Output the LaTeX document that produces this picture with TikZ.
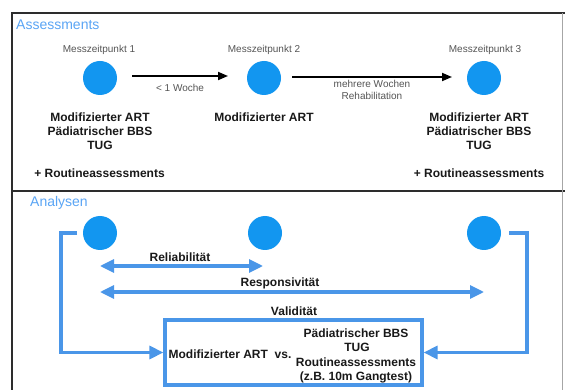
\documentclass[tikz,border=0pt]{standalone}
\usepackage{fontspec}
\setmainfont{Liberation Sans}
\usetikzlibrary{arrows.meta}
\definecolor{dotblue}{RGB}{18,150,240}
\definecolor{lineblue}{RGB}{74,150,232}
\definecolor{titleblue}{RGB}{90,165,245}
\definecolor{frame}{RGB}{45,45,45}
\definecolor{small}{RGB}{85,85,85}
\tikzset{
  dot/.style={circle,fill=dotblue,draw=none,minimum size=34pt,inner sep=0pt},
  bold12/.style={font=\fontsize{12}{13.8}\selectfont\bfseries,align=center,inner sep=0pt,text=black!90},
  small10/.style={font=\fontsize{10}{12.5}\selectfont,align=center,inner sep=0pt,text=small},
  title14/.style={font=\fontsize{14}{16}\selectfont,inner sep=0pt,text=titleblue,anchor=west},
  blackarrow/.style={draw=black,line width=1.8pt,-{Triangle[length=10pt,width=8pt]}},
  bluearrow/.style={draw=lineblue,line width=3.2pt,{Triangle[length=14pt,width=13pt]}-{Triangle[length=14pt,width=13pt]}},
  blueconn/.style={draw=lineblue,line width=3.2pt,-{Triangle[length=14pt,width=13pt]}},
  vbox/.style={draw=lineblue,line width=3.2pt,minimum width=257pt,minimum height=65pt,inner sep=0pt}
}
\begin{document}
\begin{tikzpicture}[x=1pt,y=-1pt]
\useasboundingbox (0,0) rectangle (565,390);
\fill[white] (0,0) rectangle (565,390);
% frame
\draw[frame,line width=1.5pt] (12,390) -- (12,13) -- (565,13);
\draw[frame,line width=1.5pt] (12,191) -- (565,191);
\draw[black!35,line width=1pt] (562,13) -- (562,390);

% ---- Assessments
\node[title14] (tA) at (16,25) {Assessments};
\node[dot] (a1) at (100,78) {};
\node[dot] (a2) at (264,78) {};
\node[dot] (a3) at (484,78) {};
\node[small10] (m1) at (99,50) {Messzeitpunkt 1};
\node[small10] (m2) at (264,50) {Messzeitpunkt 2};
\node[small10] (m3) at (485,50) {Messzeitpunkt 3};
\coordinate (a1r) at (132,76);
\coordinate (a2l) at (228,76);
\coordinate (a2r) at (292,77);
\coordinate (a3l) at (452,77);
\draw[blackarrow] (a1r) -- (a2l);
\draw[blackarrow] (a2r) -- (a3l);
\node[small10] (w1) at (180,88) {< 1 Woche};
\node[small10] (w2) at (372,90) {mehrere Wochen\\Rehabilitation};
\node[bold12] (t1) at (100,131) {Modifizierter ART\\Pädiatrischer BBS\\TUG};
\node[bold12] (t2) at (264,117) {Modifizierter ART};
\node[bold12] (t3) at (479,131) {Modifizierter ART\\Pädiatrischer BBS\\TUG};
\node[bold12] (r1) at (99.5,173) {+ Routineassessments};
\node[bold12] (r3) at (479,173) {+ Routineassessments};

% ---- Analysen
\node[title14] (tB) at (30,203) {Analysen};
\node[dot] (b1) at (100,233) {};
\node[dot] (b2) at (265,233) {};
\node[dot] (b3) at (484,233) {};
\coordinate (relL) at (100,266);
\coordinate (relR) at (263,266);
\coordinate (resL) at (100,292);
\coordinate (resR) at (484,292);
\draw[bluearrow] (relL) -- (relR);
\draw[bluearrow] (resL) -- (resR);
\node[bold12] (lrel) at (180,257) {Reliabilität};
\node[bold12] (lres) at (280,283) {Responsivität};
\node[bold12] (lval) at (294,311) {Validität};
\node[vbox] (box) at (293.5,352.5) {};
\node[bold12] (bl) at (230,354) {Modifizierter ART\ \ vs.};
\node[bold12] (br1) at (356,333) {Pädiatrischer BBS};
\node[bold12] (br2) at (357,347.5) {TUG};
\node[bold12] (br3) at (356,362) {Routineassessments};
\node[bold12] (br4) at (356,377) {(z.B. 10m Gangtest)};
\coordinate (lstart) at (77,233);
\coordinate (rstart) at (509,233);
\draw[blueconn] (lstart) -- (61,233) |- (box.west);
\draw[blueconn] (rstart) -- (527,233) |- (box.east);
\end{tikzpicture}
\end{document}
